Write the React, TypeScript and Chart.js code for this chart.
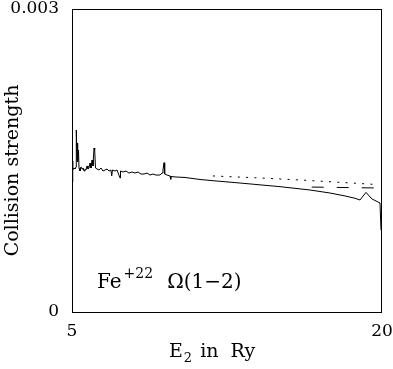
import React, { useEffect, useRef } from "react";
import { Chart, registerables } from "chart.js";

Chart.register(...registerables);

// Solid curve: collision strength vs incident energy (Ry)
const solidEnergy = [
  5.0, 5.024, 5.048, 5.097, 5.145, 5.194, 5.208, 5.242, 5.256, 5.29, 5.315, 5.339,
  5.387, 5.435, 5.484, 5.532, 5.581, 5.629, 5.677, 5.726, 5.774, 5.823, 5.871, 5.919,
  5.968, 6.016, 6.065, 6.098, 6.137, 6.21, 6.306, 6.403, 6.5, 6.597, 6.694, 6.79,
  6.887, 6.921, 6.96, 7.081, 7.177, 7.323, 7.347, 7.468, 7.613, 7.758, 7.903, 8.048,
  8.194, 8.339, 8.484, 8.629, 8.774, 8.919, 9.065, 9.258, 9.355, 9.403, 9.452, 9.485,
  9.597, 9.742, 9.776, 9.805, 9.984, 10.468, 11.194, 11.823, 13.129, 15.065, 16.516,
  17.484, 18.21, 18.694, 18.935, 19.226, 19.516, 19.806, 19.903, 19.952,
];
const solidOmega = [
  0.001287, 0.001495, 0.001406, 0.001426, 0.001416, 0.001436, 0.001802, 0.001505,
  0.001673, 0.001485, 0.001604, 0.001426, 0.001396, 0.001436, 0.001416, 0.001426,
  0.001396, 0.001416, 0.001406, 0.001446, 0.001416, 0.001426, 0.001475, 0.001426,
  0.001505, 0.001446, 0.001624, 0.001604, 0.001426, 0.001416, 0.001406, 0.001426,
  0.001396, 0.001406, 0.001416, 0.001396, 0.001406, 0.001347, 0.001406, 0.001396,
  0.001406, 0.001327, 0.001396, 0.001386, 0.001396, 0.001376, 0.001386, 0.001376,
  0.001386, 0.001366, 0.001366, 0.001376, 0.001356, 0.001366, 0.001356, 0.001356,
  0.001376, 0.001406, 0.001478, 0.001366, 0.001356, 0.001347, 0.001314, 0.001342,
  0.001337, 0.001332, 0.001312, 0.0013, 0.001277, 0.001241, 0.001208, 0.001178,
  0.001149, 0.001126, 0.001109, 0.001184, 0.001119, 0.001089, 0.001079, 0.000812,
];

// Dotted curve
const dottedEnergy = [11.82, 14.1, 16.03, 19.76];
const dottedOmega = [0.001347, 0.001327, 0.001307, 0.001262];

// Dashed curve
const dashedEnergy = [16.6, 19.71];
const dashedOmega = [0.001237, 0.001228];

const xTicks = [5, 20];
const yTicks = [0, 0.003];

const FONT = "'DejaVu Serif', 'Liberation Serif', serif";

const toPoints = (xs: number[], ys: number[]) => xs.map((x, i) => ({ x, y: ys[i] }));

const decorPlugin = {
  id: "decor",
  afterDraw(chart: any) {
    const { ctx, chartArea } = chart;
    const { left, right, top, bottom } = chartArea;
    ctx.save();
    // frame
    ctx.strokeStyle = "#000";
    ctx.lineWidth = 1;
    ctx.strokeRect(left + 0.5, top + 0.5, right - left - 1, bottom - top);
    ctx.fillStyle = "#000";
    ctx.textBaseline = "alphabetic";

    // y title
    ctx.save();
    ctx.translate(18, (top + bottom) / 2 + 10);
    ctx.rotate(-Math.PI / 2);
    ctx.textAlign = "center";
    ctx.font = `19px ${FONT}`;
    ctx.fillText("Collision strength", 0, 0);
    ctx.restore();

    // x title: E_2 in Ry
    ctx.textAlign = "left";
    let x = 169;
    const by = 357;
    ctx.font = `19px ${FONT}`;
    ctx.fillText("E", x, by);
    x += ctx.measureText("E").width;
    ctx.font = `13px ${FONT}`;
    ctx.fillText("2", x + 1, by + 5);
    x += ctx.measureText("2").width + 9;
    ctx.font = `19px ${FONT}`;
    ctx.fillText("in  Ry", x, by);

    // annotation: Fe^{+22}  Omega(1-2)
    let ax = 97;
    const ay = 288;
    ctx.font = `20px ${FONT}`;
    ctx.fillText("Fe", ax, ay);
    ax += ctx.measureText("Fe").width + 2;
    ctx.font = `14px ${FONT}`;
    ctx.fillText("+22", ax, ay - 10);
    ax += ctx.measureText("+22").width + 14;
    ctx.font = `20px ${FONT}`;
    ctx.fillText("\u03A9(1\u22122)", ax, ay);
    ctx.restore();
  },
};

export default function App() {
  const ref = useRef<HTMLCanvasElement | null>(null);

  useEffect(() => {
    document.body.style.margin = "0";
    if (!ref.current) return;
    const chart = new Chart(ref.current, {
      type: "line",
      data: {
        datasets: [
          {
            data: toPoints(solidEnergy, solidOmega),
            borderColor: "#000",
            borderWidth: 1,
            pointRadius: 0,
            tension: 0,
            fill: false,
          },
          {
            data: toPoints(dottedEnergy, dottedOmega),
            borderColor: "#000",
            borderWidth: 1,
            borderDash: [2, 6.3],
            pointRadius: 0,
            tension: 0,
            fill: false,
          },
          {
            data: toPoints(dashedEnergy, dashedOmega),
            borderColor: "#000",
            borderWidth: 1,
            borderDash: [12, 13],
            pointRadius: 0,
            tension: 0,
            fill: false,
          },
        ],
      },
      options: {
        responsive: false,
        animation: false,
        parsing: false,
        layout: { padding: { top: 9, right: 11, left: 0, bottom: 0 } },
        plugins: { legend: { display: false }, tooltip: { enabled: false } },
        scales: {
          x: {
            type: "linear",
            min: 5,
            max: 20,
            grid: { display: false, drawTicks: false },
            border: { display: false },
            afterBuildTicks: (s: any) => {
              s.ticks = xTicks.map((v) => ({ value: v }));
            },
            afterFit: (s: any) => {
              s.height = 57;
              s.paddingLeft = 0;
              s.paddingRight = 0;
              s.paddingTop = 0;
              s.paddingBottom = 0;
            },
            ticks: {
              color: "#000",
              padding: 9,
              maxRotation: 0,
              font: { family: FONT, size: 17 },
              callback: (v: any) => String(v),
            },
          },
          y: {
            type: "linear",
            min: 0,
            max: 0.003,
            grid: { display: false, drawTicks: false },
            border: { display: false },
            afterBuildTicks: (s: any) => {
              s.ticks = yTicks.map((v) => ({ value: v }));
            },
            afterFit: (s: any) => {
              s.width = 72;
              s.paddingLeft = 0;
              s.paddingRight = 0;
              s.paddingTop = 0;
              s.paddingBottom = 0;
            },
            ticks: {
              color: "#000",
              padding: 13,
              font: { family: FONT, size: 17 },
              callback: (v: any) => (v === 0 ? "0" : "0.003"),
            },
          },
        },
      },
      plugins: [decorPlugin],
    });
    return () => chart.destroy();
  }, []);

  return (
    <div style={{ width: 393, height: 369 }}>
      <canvas ref={ref} width={393} height={369} style={{ display: "block" }} />
    </div>
  );
}
